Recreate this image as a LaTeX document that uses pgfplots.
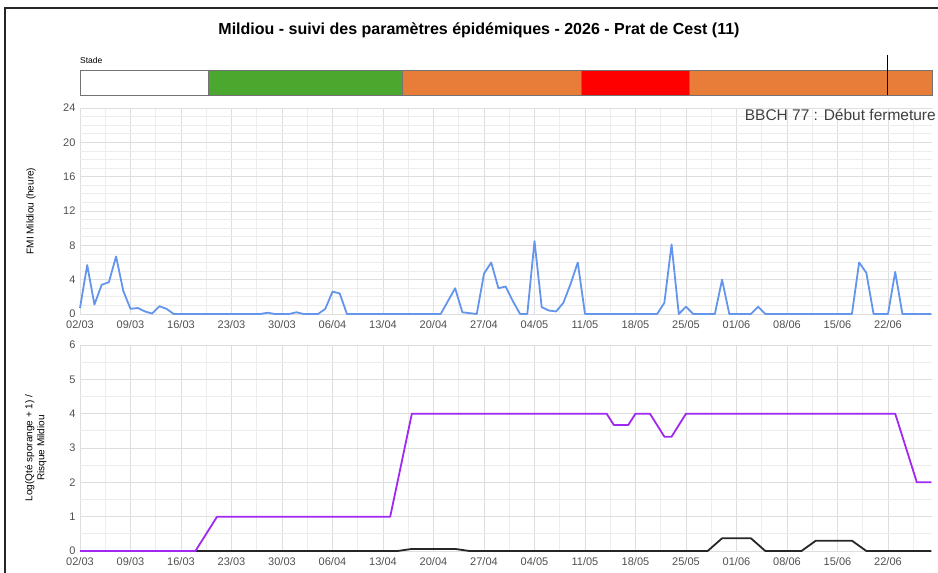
\documentclass[border=0pt]{standalone}
\usepackage{pgfplots}
\pgfplotsset{compat=1.18}
\usepackage{fontspec}
\setmainfont{Liberation Sans}
\definecolor{fmi}{RGB}{100,149,237}
\definecolor{risk}{RGB}{160,40,240}
\definecolor{stgreen}{RGB}{76,167,46}
\definecolor{storange}{RGB}{232,125,58}
\definecolor{stred}{RGB}{255,0,0}
\definecolor{ticktxt}{RGB}{80,80,80}
\pgfplotsset{
  chartbase/.style={
    scale only axis, width=852pt, height=206pt,
    xmin=0, xmax=118.1,
    axis line style={draw=none},
    tick style={draw=none},
    grid=both,
    major grid style={black!13, line width=0.8pt},
    minor grid style={black!7, line width=0.8pt},
    xtick={0,7,...,112},
    xticklabels={02/03,09/03,16/03,23/03,30/03,06/04,13/04,20/04,27/04,04/05,11/05,18/05,25/05,01/06,08/06,15/06,22/06},
    minor xtick={3.5,10.5,...,115.5},
    tick label style={font=\fontsize{11}{13}\selectfont, text=ticktxt},
    xticklabel style={yshift=-3pt},
    yticklabel style={xshift=-1pt},
    /pgf/number format/assume math mode=true,
    ylabel style={font=\fontsize{10}{12}\selectfont, anchor=center, align=center},
    clip=false,
  }
}
\begin{document}
\begin{tikzpicture}
\useasboundingbox (0pt,0pt) rectangle (938pt,573pt);
\draw[line width=1.6pt, black!85] (5pt,0pt) -- (5pt,565pt) -- (938pt,565pt);
\node[font=\bfseries\fontsize{16}{19}\selectfont] at (479pt,543pt) {Mildiou - suivi des paramètres épidémiques - 2026 - Prat de Cest (11)};
\node[anchor=west, inner sep=0, font=\fontsize{8.5}{10}\selectfont] at (80pt,513pt) {Stade};

% stage bar
\begin{axis}[at={(80pt,478pt)}, anchor=south west, scale only axis, width=852pt, height=25pt,
  xmin=0, xmax=118.1, ymin=0, ymax=1, hide axis, clip=false]
\addplot[fill=white, draw=black!55] coordinates {(0,0)(17.74,0)(17.74,1)(0,1)} -- cycle;
\addplot[fill=stgreen, draw=black!55] coordinates {(17.74,0)(44.63,0)(44.63,1)(17.74,1)} -- cycle;
\addplot[fill=storange, draw=black!55] coordinates {(44.63,0)(69.45,0)(69.45,1)(44.63,1)} -- cycle;
\addplot[fill=stred, draw=black!55] coordinates {(69.45,0)(84.42,0)(84.42,1)(69.45,1)} -- cycle;
\addplot[fill=storange, draw=black!55] coordinates {(84.42,0)(118.1,0)(118.1,1)(84.42,1)} -- cycle;
\addplot[black, line width=1pt] coordinates {(112,0)(112,1.6)};
\end{axis}

% FMI chart
\begin{axis}[chartbase, at={(80pt,259pt)}, anchor=south west,
  ymin=0, ymax=24, ytick={0,4,...,24}, minor ytick={1,...,23},
  ylabel={FMI Mildiou (heure)},
  ylabel style={at={(axis description cs:-0.0575,0.5)}}]
\addplot[fmi, line width=1.8pt, line join=round] coordinates {
(0,0.7)(1,5.7)(2,1.1)(3,3.4)(4,3.7)(5,6.7)(6,2.7)(7,0.6)(8,0.7)(9,0.3)(10,0.05)(11,0.9)(12,0.6)(13,0)
(14,0)(15,0)(16,0)(17,0)(18,0)(19,0)(20,0)(21,0)(22,0)(23,0)(24,0)(25,0)(26,0.15)(27,0)(28,0)(29,0)
(30,0.2)(31,0)(32,0)(33,0)(34,0.6)(35,2.6)(36,2.4)(37,0)(38,0)(39,0)(40,0)(41,0)(42,0)(43,0)(44,0)
(45,0)(46,0)(47,0)(48,0)(49,0)(50,0)(51,1.5)(52,3.0)(53,0.2)(54,0.1)(55,0)(56,4.7)(57,6.0)(58,3.0)
(59,3.2)(60,1.5)(61,0)(62,0)(63,8.5)(64,0.8)(65,0.4)(66,0.3)(67,1.3)(68,3.5)(69,6.0)(70,0)(71,0)
(72,0)(73,0)(74,0)(75,0)(76,0)(77,0)(78,0)(79,0)(80,0)(81,1.3)(82,8.1)(83,0)(84,0.85)(85,0)(86,0)
(87,0)(88,0)(89,4.0)(90,0)(91,0)(92,0)(93,0)(94,0.85)(95,0)(96,0)(97,0)(98,0)(99,0)(100,0)(101,0)
(102,0)(103,0)(104,0)(105,0)(106,0)(107,0)(108,6.0)(109,4.8)(110,0)(111,0)(112,0)(113,4.9)(114,0)
(115,0)(116,0)(117,0)(118,0)};
\end{axis}
\node[anchor=east, inner sep=0, text=black!75, font=\fontsize{15.5}{18}\selectfont] at (936pt,458pt) {BBCH 77 : Début fermeture};

% sporange / risk chart
\begin{axis}[chartbase, at={(80pt,22pt)}, anchor=south west,
  ymin=0, ymax=6, ytick={0,...,6}, minor ytick={0.5,1.5,...,5.5},
  ylabel={Log(Qté sporange + 1) /\\Risque Mildiou},
  ylabel style={at={(axis description cs:-0.052,0.5)}}]
\addplot[black!85, line width=1.8pt, line join=round] coordinates {
(0,0)(44,0)(46,0.06)(52,0.06)(54,0)(87,0)(89,0.37)(93,0.37)(95,0)(100,0)(102,0.3)(107,0.3)(109,0)(118,0)};
\addplot[risk, line width=1.8pt, line join=round] coordinates {
(0,0)(16,0)(19,1)(43,1)(46,4)(73,4)(74,3.67)(76,3.67)(77,4)(79,4)(81,3.33)(82,3.33)(84,4)(113,4)(116,2)(118,2)};
\end{axis}
\end{tikzpicture}
\end{document}
